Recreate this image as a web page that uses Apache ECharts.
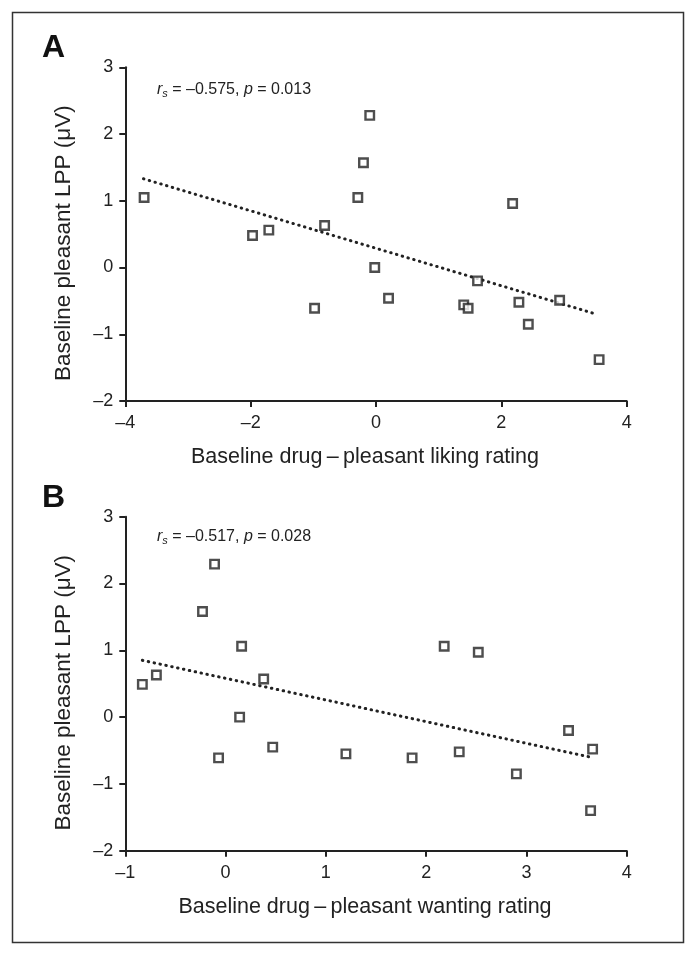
<!DOCTYPE html>
<html>
<head>
<meta charset="utf-8">
<script src="https://cdn.jsdelivr.net/npm/echarts@6/dist/echarts.min.js"></script>
<style>
html,body{margin:0;padding:0;background:#fff;}
#chart{width:691px;height:956px;}
</style>
</head>
<body>
<div id="chart"></div>
<script>
// Panel A: liking rating vs LPP
const likingX = [-3.70, -1.97, -1.71, -0.82, -0.98, -0.29, -0.20, -0.10, -0.02, 0.20, 2.18, 1.62, 1.40, 1.47, 2.28, 2.93, 2.43, 3.56];
const likingY = [1.05, 0.48, 0.56, 0.63, -0.61, 1.05, 1.57, 2.28, 0.00, -0.46, 0.96, -0.20, -0.56, -0.61, -0.52, -0.49, -0.85, -1.38];
const trendA = [[-3.71, 1.33], [3.52, -0.70]];
// Panel B: wanting rating vs LPP
const wantingX = [-0.83, -0.69, -0.23, -0.11, 0.16, 0.14, -0.07, 0.38, 0.47, 1.20, 2.18, 2.52, 1.86, 2.33, 2.90, 3.42, 3.66, 3.64];
const wantingY = [0.49, 0.63, 1.58, 2.29, 1.06, 0.00, -0.61, 0.57, -0.45, -0.55, 1.06, 0.97, -0.61, -0.52, -0.85, -0.20, -0.48, -1.40];
const trendB = [[-0.83, 0.85], [3.64, -0.60]];
const yTicks = [-2, -1, 0, 1, 2, 3];
const xTicksA = [-4, -2, 0, 2, 4];
const xTicksB = [-1, 0, 1, 2, 3, 4];
const yTitle = 'Baseline pleasant LPP (\u03BCV)';
const xTitleA = 'Baseline drug\u2009\u2013\u2009pleasant liking rating';
const xTitleB = 'Baseline drug\u2009\u2013\u2009pleasant wanting rating';
const statsA = ['\u20130.575', '0.013'];
const statsB = ['\u20130.517', '0.028'];

const FONT = '"Liberation Sans", Arial, sans-serif';
const INK = '#222';
const fmt = v => String(v).replace('-', '\u2013');

function xAxis(idx, ticks, title) {
  return {
    type: 'value', gridIndex: idx,
    min: ticks[0], max: ticks[ticks.length - 1], interval: ticks[1] - ticks[0],
    name: title, nameLocation: 'middle', nameGap: 45,
    nameTextStyle: { fontFamily: FONT, fontSize: 21.5, color: INK, padding: [0, 22, 0, 0] },
    axisLine: { onZero: false, lineStyle: { color: INK, width: 2 } },
    axisTick: { show: true, length: 6, lineStyle: { color: INK, width: 2 } },
    axisLabel: { fontFamily: FONT, fontSize: 18, color: INK, margin: 13, formatter: fmt },
    splitLine: { show: false }
  };
}
function yAxis(idx) {
  return {
    type: 'value', gridIndex: idx,
    min: yTicks[0], max: yTicks[yTicks.length - 1], interval: 1,
    name: yTitle, nameLocation: 'middle', nameGap: 50,
    nameTextStyle: { fontFamily: FONT, fontSize: 22.5, color: INK, padding: [0, 18, 0, 0] },
    axisLine: { onZero: false, lineStyle: { color: INK, width: 2 } },
    axisTick: { show: true, length: 6, lineStyle: { color: INK, width: 2 } },
    axisLabel: { fontFamily: FONT, fontSize: 18, color: INK, margin: 12, formatter: fmt },
    splitLine: { show: false }
  };
}
function scatter(idx, xs, ys) {
  return {
    type: 'scatter', xAxisIndex: idx, yAxisIndex: idx,
    data: xs.map((x, i) => [x, ys[i]]),
    symbol: 'rect', symbolSize: 8.5,
    itemStyle: { color: '#fff', borderColor: INK, borderWidth: 2.4 },
    z: 3
  };
}
function trend(idx, pts) {
  return {
    type: 'line', xAxisIndex: idx, yAxisIndex: idx, data: pts,
    symbol: 'none',
    lineStyle: { color: INK, width: 3, type: [0.5, 5.5], cap: 'round' },
    z: 2
  };
}
function stats(x, y, s) {
  return {
    type: 'text', left: x, top: y,
    style: {
      rich: {
        i: { fontFamily: FONT, fontSize: 16, fontStyle: 'italic', fill: INK },
        sub: { fontFamily: FONT, fontSize: 11, fontStyle: 'italic', fill: INK, verticalAlign: 'bottom', padding: [8, 0, 0, 0] },
        n: { fontFamily: FONT, fontSize: 16, fill: INK }
      },
      text: '{i|r}{sub|s}{n| = ' + s[0] + ', }{i|p}{n| = ' + s[1] + '}'
    }
  };
}

const chart = echarts.init(document.getElementById('chart'), null, { renderer: 'canvas' });
chart.setOption({
  backgroundColor: '#fff',
  animation: false,
  grid: [
    { left: 125.3, right: 64.3, top: 67.3, height: 333.7 },
    { left: 125.3, right: 64.3, top: 516.7, height: 334 }
  ],
  xAxis: [xAxis(0, xTicksA, xTitleA), xAxis(1, xTicksB, xTitleB)],
  yAxis: [yAxis(0), yAxis(1)],
  series: [trend(0, trendA), scatter(0, likingX, likingY), trend(1, trendB), scatter(1, wantingX, wantingY)],
  graphic: [
    { type: 'rect', shape: { x: 12.5, y: 12.5, width: 671, height: 930 }, style: { fill: 'none', stroke: '#333', lineWidth: 1.5 } },
    { type: 'text', left: 42, top: 32, style: { text: 'A', fontFamily: FONT, fontWeight: 'bold', fontSize: 32, fill: '#111' } },
    { type: 'text', left: 42, top: 482, style: { text: 'B', fontFamily: FONT, fontWeight: 'bold', fontSize: 32, fill: '#111' } },
    stats(157, 82, statsA),
    stats(157, 529, statsB)
  ]
});
</script>
</body>
</html>
